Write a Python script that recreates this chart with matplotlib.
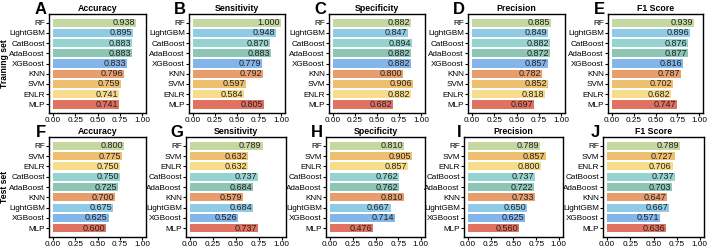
import numpy as np
from matplotlib import pyplot as plt

plt.rcParams['font.family'] = ['Liberation Sans', 'DejaVu Sans']

train_models = ["RF", "LightGBM", "CatBoost", "AdaBoost", "XGBoost", "KNN", "SVM", "ENLR", "MLP"]
test_models = ["RF", "SVM", "ENLR", "CatBoost", "AdaBoost", "KNN", "LightGBM", "XGBoost", "MLP"]
metrics = ["Accuracy", "Sensitivity", "Specificity", "Precision", "F1 Score"]

train_acc = [0.938, 0.895, 0.883, 0.883, 0.833, 0.796, 0.759, 0.741, 0.741]
train_sens = [1.000, 0.948, 0.870, 0.883, 0.779, 0.792, 0.597, 0.584, 0.805]
train_spec = [0.882, 0.847, 0.894, 0.882, 0.882, 0.800, 0.906, 0.882, 0.682]
train_prec = [0.885, 0.849, 0.882, 0.872, 0.857, 0.782, 0.852, 0.818, 0.697]
train_f1 = [0.939, 0.896, 0.876, 0.877, 0.816, 0.787, 0.702, 0.682, 0.747]

test_acc = [0.800, 0.775, 0.750, 0.750, 0.725, 0.700, 0.675, 0.625, 0.600]
test_sens = [0.789, 0.632, 0.632, 0.737, 0.684, 0.579, 0.684, 0.526, 0.737]
test_spec = [0.810, 0.905, 0.857, 0.762, 0.762, 0.810, 0.667, 0.714, 0.476]
test_prec = [0.789, 0.857, 0.800, 0.737, 0.722, 0.733, 0.650, 0.625, 0.560]
test_f1 = [0.789, 0.727, 0.706, 0.737, 0.703, 0.647, 0.667, 0.571, 0.636]

colors = {
    "RF": "#c6d8a2",
    "LightGBM": "#8fcbe6",
    "CatBoost": "#94d3cf",
    "AdaBoost": "#8ec6b6",
    "XGBoost": "#83b4ea",
    "KNN": "#e89e6c",
    "SVM": "#efbf70",
    "ENLR": "#f6dc8b",
    "MLP": "#e07262",
}

W, H = 708, 248
fig = plt.figure(figsize=(W / 100, H / 100), dpi=100)

# pixel boxes (left, top, width, height)
top_lefts = [49, 189, 329, 468, 608]
bot_lefts = [49, 186, 326, 464, 603]
top_widths = [97, 96, 96, 97, 95]
bot_widths = [97, 100, 99, 99, 101]

rows = [
    (train_models, [train_acc, train_sens, train_spec, train_prec, train_f1], top_lefts, top_widths, 14, 99, "ABCDE", "Training set"),
    (test_models, [test_acc, test_sens, test_spec, test_prec, test_f1], bot_lefts, bot_widths, 137, 100, "FGHIJ", "Test set"),
]

for models, vals, lefts, widths, top, h, letters, rowname in rows:
    for i in range(5):
        l = lefts[i]
        w = widths[i]
        ax = fig.add_axes([l / W, (H - top - h) / H, w / W, h / H])
        y = np.arange(len(models))
        v = vals[i]
        ax.barh(y, v, height=0.8, color=[colors[m] for m in models])
        for yi, vi in zip(y, v):
            ax.text(vi - 0.01, yi, "%.3f" % vi, ha="right", va="center", fontsize=6.5, color="#222222")
        ax.set_yticks(y)
        ax.set_yticklabels(models)
        ax.invert_yaxis()
        ax.set_xlim(-0.045, 1.045)
        ax.set_xticks([0, 0.25, 0.5, 0.75, 1.0])
        ax.set_xticklabels(["0.00", "0.25", "0.50", "0.75", "1.00"])
        ax.tick_params(labelsize=5.9, length=2, width=0.8, pad=1)
        for s in ax.spines.values():
            s.set_linewidth(1.0)
        ax.set_title(metrics[i], fontsize=6.3, fontweight="bold", pad=2.5)
        ax.text(-0.03, 0.97, letters[i], transform=ax.transAxes, ha="right", va="bottom",
                fontsize=12, fontweight="bold")
        if i == 0:
            fig.text(5 / W, (H - top - h / 2) / H, rowname, rotation=90, ha="center", va="center",
                     fontsize=6.2, fontweight="bold")

fig.savefig("out.png", dpi=100)
